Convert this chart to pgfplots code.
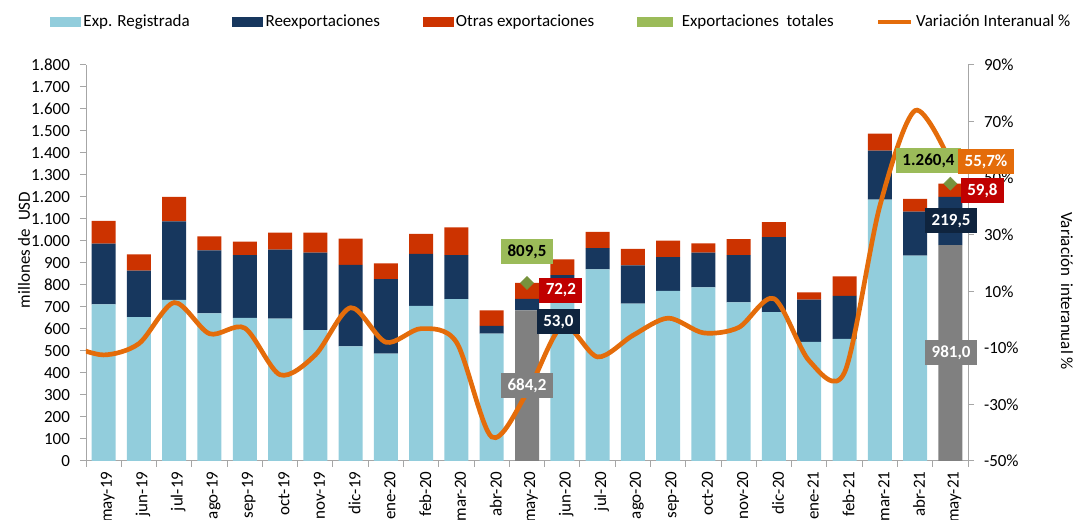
\documentclass[border=0pt]{standalone}
\usepackage{fontspec}
\setmainfont{Carlito}
\usepackage{pgfplots}
\usepackage{pgfplotstable}
\pgfplotsset{compat=1.18}

\definecolor{cReg}{HTML}{92CDDC}
\definecolor{cReex}{HTML}{17375E}
\definecolor{cOtras}{HTML}{CC3300}
\definecolor{cTot}{HTML}{9BBB59}
\definecolor{cDiam}{HTML}{77933C}
\definecolor{cVar}{HTML}{E46C0A}
\definecolor{cGray}{HTML}{808080}
\definecolor{cAxis}{HTML}{A6A6A6}
\definecolor{cLabRed}{HTML}{C00000}
\definecolor{cLabNavy}{HTML}{0F243E}

% x: 0 = may-19 ... 24 = may-21
\pgfplotstableread{
x reg gris reex otras
0 712 0 276 104
1 654 0 211 74
2 732 0 357 112
3 671 0 286 64
4 650 0 286 61
5 647 0 314 77
6 595 0 352 91
7 521 0 371 119
8 488 0 339 71
9 705 0 236 91
10 736 0 200 126
11 579 0 35 71
12 0 684.2 53.0 72.2
13 830 0 15 72
14 871 0 97 74
15 715 0 174 75
16 773 0 154 75
17 789 0 158 42
18 721 0 215 73
19 677 0 341 68
20 541 0 192 34
21 555 0 195 89
22 1188 0 223 77
23 933 0 200 58
24 0 981.0 219.5 59.8
}\bars

\pgfplotstableread{
x var
-1 -9
0 -12.5
1 -8.5
2 6.0
3 -5.0
4 -3.0
5 -19.5
6 -12.5
7 4.2
8 -8.0
9 -3.2
10 -8.0
11 -41.5
12 -25.9
13 -2.3
14 -13.2
15 -5.6
16 0.5
17 -4.7
18 -2.8
19 7.4
20 -14.6
21 -18.7
22 40.1
23 73.9
24 55.7
}\varia

\pgfplotsset{
  base/.style={
    scale only axis, width=661.5pt, height=297pt,
    xmin=-0.5, xmax=24.5, at={(0,0)}, anchor=south west,
    tick label style={font=\fontsize{12.75}{15}\selectfont, text=black},
    label style={font=\fontsize{12.75}{15}\selectfont},
    axis line style={cAxis, line width=0.75pt},
    tick style={cAxis, line width=0.75pt},
    tick align=outside,
    major tick length=4.5pt,
  },
}
\tikzset{
  lab/.style={font=\bfseries\fontsize{12.75}{15}\selectfont, inner xsep=4.8pt,
    inner ysep=0pt, minimum height=18.75pt, text=white},
}

\begin{document}
\begin{tikzpicture}
\begin{axis}[base, name=ax,
  ybar stacked, bar width=18pt,
  ymin=0, ymax=1800,
  axis y line*=left, axis x line*=bottom,
  ytick={0,100,...,1800},
  yticklabels={0,100,200,300,400,500,600,700,800,900,1.000,1.100,1.200,1.300,1.400,1.500,1.600,1.700,1.800},
  yticklabel style={xshift=-4pt},
  xtick={-0.5,0.5,...,24.5},
  x tick label as interval,
  xticklabels={may-19,jun-19,jul-19,ago-19,sep-19,oct-19,nov-19,dic-19,ene-20,feb-20,mar-20,abr-20,may-20,jun-20,jul-20,ago-20,sep-20,oct-20,nov-20,dic-20,ene-21,feb-21,mar-21,abr-21,may-21},
  xticklabel style={rotate=90, anchor=east, yshift=-3pt},
  ylabel={millones de\ \ USD},
  ylabel style={at={(axis description cs:-0.0703,0.533)}, anchor=center},
  legend style={draw=none, fill=none, at={(axis description cs:0,1)}, anchor=west,
    xshift=-27pt, yshift=32.6pt, inner sep=0pt,
    font=\fontsize{12.75}{15}\selectfont},
  legend columns=-1,
  legend cell align=left,
  legend style={/tikz/every even column/.append style={column sep=30pt}},
]
\addplot[fill=cReg, draw=none, forget plot] table[x=x, y=reg] {\bars};
\addplot[fill=cGray, draw=none, forget plot] table[x=x, y=gris] {\bars};
\addplot[fill=cReex, draw=none, forget plot] table[x=x, y=reex] {\bars};
\addplot[fill=cOtras, draw=none, forget plot] table[x=x, y=otras] {\bars};

\addlegendimage{legend image code/.code={\fill[cReg] (0pt,-3.4pt) rectangle (22.5pt,3.4pt);}}
\addlegendentry{Exp. Registrada}
\addlegendimage{legend image code/.code={\fill[cReex] (0pt,-3.4pt) rectangle (22.5pt,3.4pt);}}
\addlegendentry{Reexportaciones}
\addlegendimage{legend image code/.code={\fill[cOtras] (0pt,-3.4pt) rectangle (22.5pt,3.4pt);}}
\addlegendentry{Otras exportaciones}
\addlegendimage{legend image code/.code={\fill[cTot] (0pt,-3.4pt) rectangle (26.25pt,3.4pt);}}
\addlegendentry{\hspace{5pt}Exportaciones\ \ totales}
\addlegendimage{legend image code/.code={\draw[cVar, line width=3pt] (0pt,0pt) -- (24.75pt,0pt);}}
\addlegendentry{Variación Interanual \%}

\coordinate (l1) at (axis cs:12,952);
\coordinate (l2) at (axis cs:12.96,775);
\coordinate (l3) at (axis cs:12.89,632);
\coordinate (l4) at (axis cs:12,343);
\coordinate (l5) at (axis cs:23.38,1366);
\coordinate (l6) at (axis cs:25.01,1361);
\coordinate (l7) at (axis cs:24.91,1230);
\coordinate (l8) at (axis cs:24.02,1091);
\coordinate (l9) at (axis cs:24.02,493);
\end{axis}

\begin{axis}[base, hide axis, ymin=0, ymax=1800]
\addplot[only marks, mark=square*, mark size=3.45pt,
  mark options={rotate=45, fill=cDiam, draw=cDiam}]
  coordinates {(12,809.5) (24,1260.4)};
\end{axis}

\begin{axis}[base,
  ymin=-50, ymax=90,
  axis y line*=right, axis x line=none,
  ytick={-50,-30,...,90},
  yticklabels={-50\%,-30\%,-10\%,10\%,30\%,50\%,70\%,90\%},
  yticklabel style={xshift=4pt},
  ylabel={Variación\ \ interanual \%},
  ylabel style={at={(axis description cs:1.1122,0.429)}, anchor=center, rotate=180},
]
\addplot[cVar, line width=3.5pt, smooth, no marks] table[x=x, y=var] {\varia};
\end{axis}

\node[lab, fill=cTot, text=black] at (l1) {809,5};
\node[lab, fill=cLabRed] at (l2) {72,2};
\node[lab, fill=cLabNavy] at (l3) {53,0};
\node[lab, fill=cGray] at (l4) {684,2};
\node[lab, fill=cTot, text=black] at (l5) {1.260,4};
\node[lab, fill=cVar] at (l6) {55,7\%};
\node[lab, fill=cLabRed] at (l7) {59,8};
\node[lab, fill=cLabNavy] at (l8) {219,5};
\node[lab, fill=cGray] at (l9) {981,0};

\pgfresetboundingbox
\useasboundingbox ([shift={(-64.5pt,-44.25pt)}]ax.south west) rectangle ([shift={(741pt,345.75pt)}]ax.south west);
\end{tikzpicture}
\end{document}
